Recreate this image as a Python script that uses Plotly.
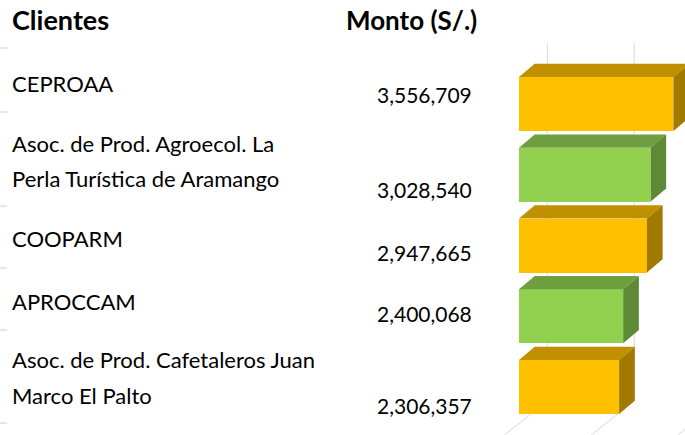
import plotly.graph_objects as go

# ---------------- data ----------------
clientes = [
    ["CEPROAA"],
    ["Asoc. de Prod. Agroecol. La", "Perla Turística de Aramango"],
    ["COOPARM"],
    ["APROCCAM"],
    ["Asoc. de Prod. Cafetaleros Juan", "Marco El Palto"],
]
montos = [3556709, 3028540, 2947665, 2400068, 2306357]
grid_vals = [0, 2000000, 4000000]
header_left = "Clientes"
header_right = "Monto (S/.)"

# ---------------- styling / geometry ----------------
W, H = 685, 435
FONT = "Lato"
front_cols = ["#FFC000", "#92D050", "#FFC000", "#92D050", "#FFC000"]
top_cols = ["#C09000", "#6E9E3E", "#C09000", "#6E9E3E", "#C09000"]
side_cols = ["#A27A00", "#5E8A34", "#A27A00", "#5E8A34", "#A27A00"]

k = 4.34e-5            # px per unit on x
x0_px = 519            # pixel of value 0 (front)
dom_left_px = 480
row0_px, row_step = 104.0, 70.75
bar_h = 54 / row_step
dx = 15.7 / k
dy = 13.3 / row_step
wall_dx = 28.3 / k


def ypx(p):
    return (p - row0_px) / row_step


fig = go.Figure()

idx = list(range(len(montos)))
fig.add_trace(go.Bar(
    orientation="h", y=idx, x=montos, width=bar_h,
    marker=dict(color=front_cols, line=dict(width=0)),
    hoverinfo="skip", showlegend=False,
))

for i, v in enumerate(montos):
    t = i - bar_h / 2
    b = i + bar_h / 2
    # top face
    fig.add_trace(go.Scatter(
        x=[0, v, v + dx, dx, 0], y=[t, t, t - dy, t - dy, t],
        fill="toself", fillcolor=top_cols[i], mode="lines",
        line=dict(width=0, color=top_cols[i]), hoverinfo="skip", showlegend=False,
    ))
    # side face
    fig.add_trace(go.Scatter(
        x=[v, v + dx, v + dx, v, v], y=[t, t - dy, b - dy, b, t],
        fill="toself", fillcolor=side_cols[i], mode="lines",
        line=dict(width=0, color=side_cols[i]), hoverinfo="skip", showlegend=False,
    ))

shapes = []
# back-wall gridlines + floor lines
y_top = ypx(43)
y_back = ypx(401)
y_bot = ypx(H)
diag = 43 / k
for g in grid_vals:
    gx = g + wall_dx
    shapes.append(dict(
        type="path", xref="x", yref="y", layer="below",
        path=f"M {gx} {y_top} L {gx} {y_back} L {gx - diag} {y_bot}",
        line=dict(color="#D9D9D9", width=1),
    ))
# left row separators
for p in [48, 112, 206, 268, 330, 423]:
    yp = 1 - p / H
    shapes.append(dict(type="line", xref="paper", yref="paper",
                       x0=0, x1=7 / W, y0=yp, y1=yp,
                       line=dict(color="#D0D0D0", width=1)))

annotations = []


def add_text(txt, xpx, ypx_c, size, bold=False, anchor="left"):
    annotations.append(dict(
        text=f"<b>{txt}</b>" if bold else txt,
        x=xpx / W, y=1 - ypx_c / H, xref="paper", yref="paper",
        xanchor=anchor, yanchor="middle", showarrow=False,
        font=dict(family=FONT, size=size, color="#000000"),
    ))


add_text(header_left, 10, 20, 27, bold=True)
add_text(header_right, 479, 20, 26, bold=True, anchor="right")

name_rows = [[83], [143, 178], [239], [301.5], [359.5, 395.5]]
value_rows = [94.5, 189, 252, 313, 405]
for i, lines in enumerate(clientes):
    for line, yc in zip(lines, name_rows[i]):
        add_text(line, 10, yc, 22)
    add_text(f"{montos[i]:,}", 474, value_rows[i], 21, anchor="right")

fig.update_layout(
    width=W, height=H,
    margin=dict(l=0, r=0, t=0, b=0),
    paper_bgcolor="white", plot_bgcolor="rgba(0,0,0,0)",
    showlegend=False,
    xaxis=dict(domain=[dom_left_px / W, 1],
               range=[-(x0_px - dom_left_px) / k, (W - x0_px) / k],
               visible=False, showgrid=False, zeroline=False),
    yaxis=dict(domain=[0, 1], range=[ypx(H), ypx(0)],
               visible=False, showgrid=False, zeroline=False),
    shapes=shapes, annotations=annotations,
    bargap=0,
)

fig.write_html("out.html",
               config={"displayModeBar": False, "staticPlot": True},
               post_script="document.body.style.margin='0';document.body.style.overflow='hidden';")
